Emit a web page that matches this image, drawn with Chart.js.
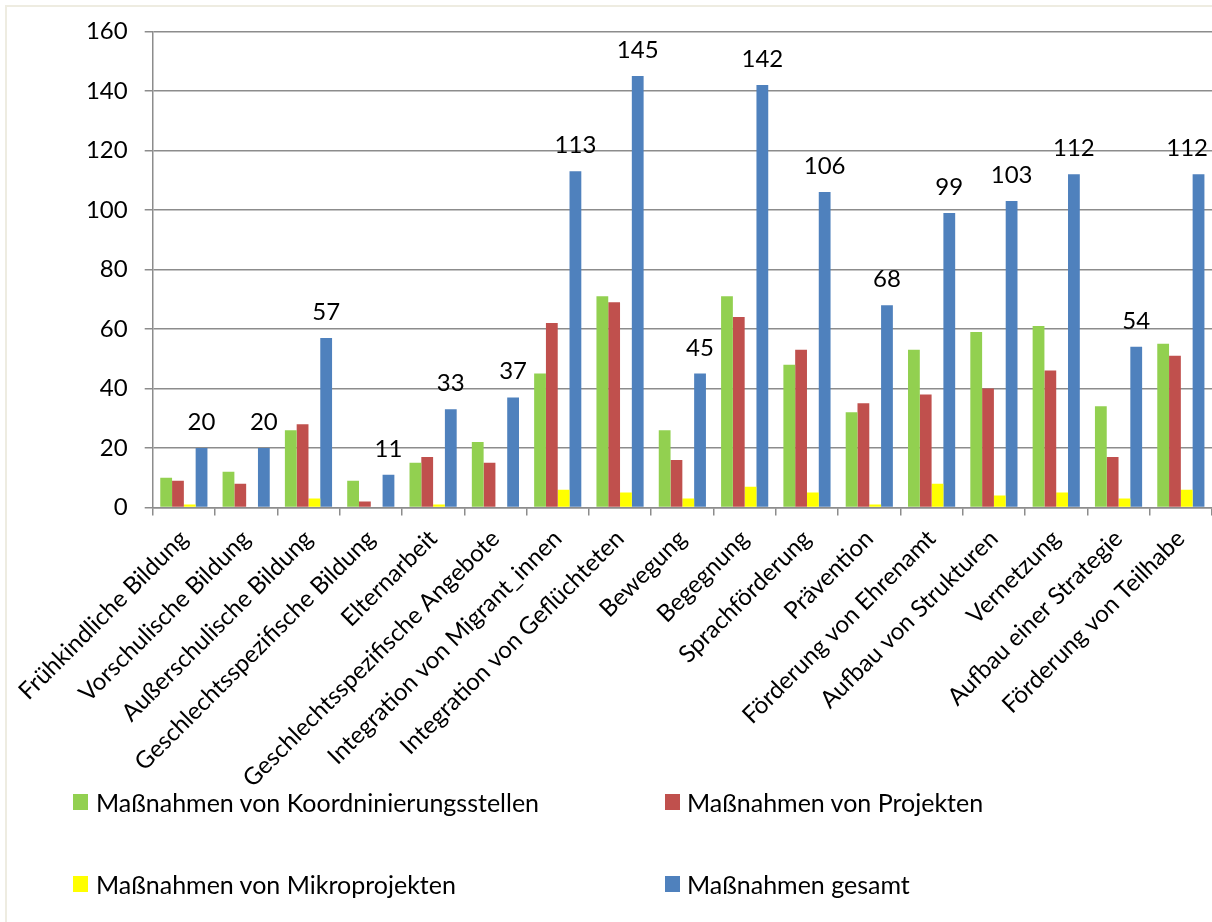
<!DOCTYPE html>
<html>
<head>
<meta charset="utf-8">
<script src="https://cdn.jsdelivr.net/npm/chart.js@4/dist/chart.umd.min.js"></script>
<style>
  html, body { margin: 0; padding: 0; background: #fff; overflow: hidden; }
  #wrap { position: relative; width: 1212px; height: 922px; }
  #frame { position: absolute; left: 5px; top: 5px; width: 1230px; height: 940px;
           border: 2px solid #eeece1; box-sizing: border-box; pointer-events: none; }
  canvas { position: absolute; left: 0; top: 0; }
  .lg { position: absolute; font-family: Lato, "Open Sans", sans-serif; font-size: 25px; color: #000;
        white-space: nowrap; line-height: 16px; }
</style>
</head>
<body>
<div id="wrap">
  <canvas id="c" width="1212" height="922"></canvas>
  <div id="frame"></div>
  <div id="legend"></div>
</div>
<script>
const categories = ["Frühkindliche Bildung", "Vorschulische Bildung", "Außerschulische Bildung",
  "Geschlechtsspezifische Bildung", "Elternarbeit", "Geschlechtsspezifische Angebote",
  "Integration von Migrant_innen", "Integration von Geflüchteten", "Bewegung", "Begegnung",
  "Sprachförderung", "Prävention", "Förderung von Ehrenamt", "Aufbau von Strukturen",
  "Vernetzung", "Aufbau einer Strategie", "Förderung von Teilhabe"];

const seriesNames = ["Maßnahmen von Koordninierungsstellen", "Maßnahmen von Projekten",
  "Maßnahmen von Mikroprojekten", "Maßnahmen gesamt"];

const koordinierung = [10, 12, 26, 9, 15, 22, 45, 71, 26, 71, 48, 32, 53, 59, 61, 34, 55];
const projekte      = [9, 8, 28, 2, 17, 15, 62, 69, 16, 64, 53, 35, 38, 40, 46, 17, 51];
const mikroprojekte = [1, 0, 3, 0, 1, 0, 6, 5, 3, 7, 5, 1, 8, 4, 5, 3, 6];
const gesamt        = [20, 20, 57, 11, 33, 37, 113, 145, 45, 142, 106, 68, 99, 103, 112, 54, 112];

const yTicks = [0, 20, 40, 60, 80, 100, 120, 140, 160];

const colors = ["#92d050", "#c0504d", "#ffff00", "#4f81bd"];
const FONT = "Lato";

const seriesValues = [koordinierung, projekte, mikroprojekte, gesamt];

const valueLabels = {
  id: 'valueLabels',
  afterDatasetsDraw(chart) {
    const ctx = chart.ctx;
    const meta = chart.getDatasetMeta(3);
    ctx.save();
    ctx.font = '24px ' + FONT;
    ctx.fillStyle = '#000';
    ctx.textAlign = 'center';
    ctx.textBaseline = 'alphabetic';
    meta.data.forEach((bar, i) => {
      const txt = String(gesamt[i]);
      const half = ctx.measureText(txt).width / 2;
      const x = Math.min(bar.x, chart.width - half - 4);
      ctx.fillText(txt, x, bar.y - 18);
    });
    ctx.restore();
  }
};

new Chart(document.getElementById('c'), {
  type: 'bar',
  data: {
    labels: categories,
    datasets: seriesValues.map((vals, i) => ({
      label: seriesNames[i],
      data: vals,
      backgroundColor: colors[i],
      borderWidth: 0,
      categoryPercentage: 0.757,
      barPercentage: 1.0
    }))
  },
  options: {
    responsive: false,
    animation: false,
    devicePixelRatio: 1,
    layout: { padding: { top: 29.5, left: 0, right: 0, bottom: 0 } },
    plugins: { legend: { display: false }, tooltip: { enabled: false } },
    scales: {
      y: {
        min: 0, max: 160,
        afterBuildTicks(scale) { scale.ticks = yTicks.map(v => ({ value: v })); },
        afterFit(scale) { scale.width = 152.7; },
        ticks: { color: '#000', font: { family: FONT, size: 24 }, padding: 17 },
        grid: { color: '#8c8c8c', lineWidth: 1.5, tickLength: 8, drawTicks: true },
        border: { display: true, color: '#8c8c8c', width: 1.5 }
      },
      x: {
        afterFit(scale) { scale.height = 922 - 507.5; },
        ticks: { color: '#000', font: { family: FONT, size: 24 }, minRotation: 45, maxRotation: 45, padding: 9, autoSkip: false },
        grid: { drawOnChartArea: false, drawTicks: true, tickLength: 8, color: '#8c8c8c', lineWidth: 1.5, offset: true },
        border: { display: true, color: '#8c8c8c', width: 1.5 }
      }
    }
  },
  plugins: [valueLabels]
});

// HTML legend, two columns x two rows
const legendPos = [
  { sx: 73, tx: 96, y: 794 },
  { sx: 665, tx: 687, y: 794 },
  { sx: 73, tx: 96, y: 876 },
  { sx: 665, tx: 687, y: 876 }
];
const lg = document.getElementById('legend');
seriesNames.forEach((name, i) => {
  const p = legendPos[i];
  const sw = document.createElement('div');
  sw.style.cssText = `position:absolute;left:${p.sx}px;top:${p.y}px;width:15px;height:16px;background:${colors[i]};`;
  lg.appendChild(sw);
  const t = document.createElement('div');
  t.className = 'lg';
  t.style.left = p.tx + 'px';
  t.style.top = p.y + 'px';
  t.textContent = name;
  lg.appendChild(t);
});
</script>
</body>
</html>
